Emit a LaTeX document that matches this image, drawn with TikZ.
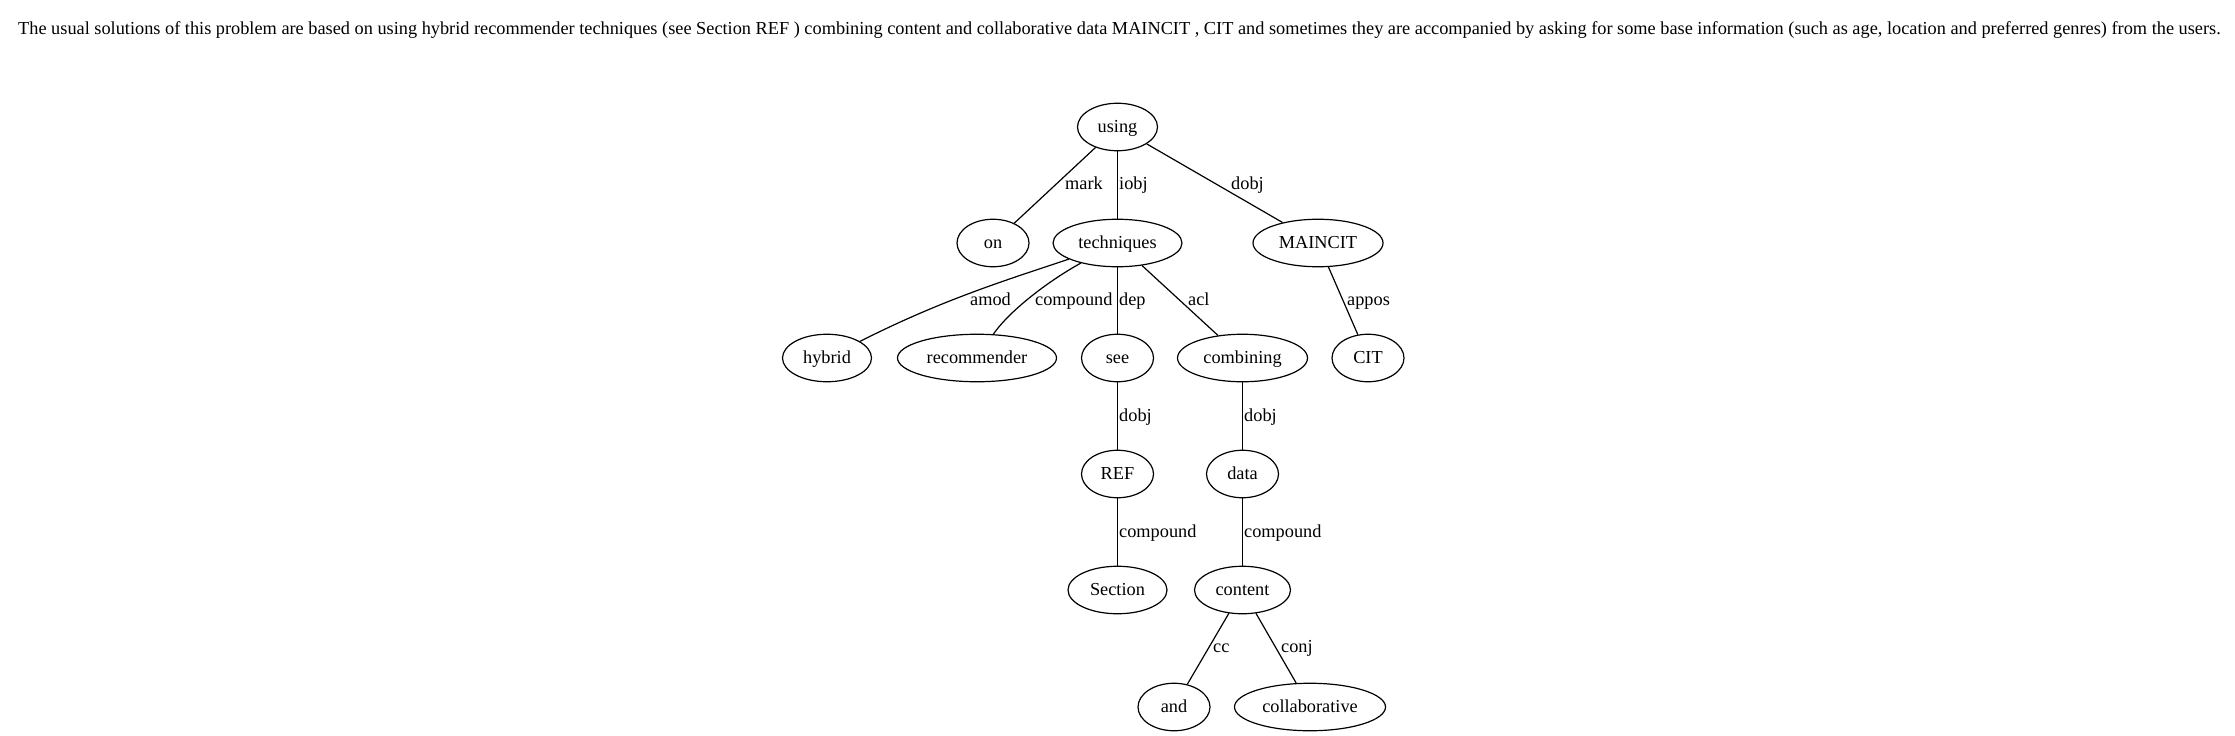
\documentclass[tikz,border=0pt]{standalone}
\usepackage{fontspec}
\setmainfont{Liberation Serif}
\usetikzlibrary{shapes.geometric}
\begin{document}
\begin{tikzpicture}[x=1pt,y=-1pt,
  every node/.style={font=\fontsize{18.3pt}{21pt}\selectfont},
  tok/.style={draw, ellipse, line width=1.2pt, inner sep=0pt, text height=11.8pt, text depth=0pt, minimum height=47.5pt},
  rel/.style={anchor=base west, inner sep=0pt},
  dep/.style={line width=1.2pt}]
\useasboundingbox[fill=white] (0,0) rectangle (2235,736);
\node[anchor=base west, inner sep=0pt] (title) at (18,34.3) {The usual solutions of this problem are based on using hybrid recommender techniques (see Section REF ) combining content and collaborative data MAINCIT , CIT and sometimes they are accompanied by asking for some base information (such as age, location and preferred genres) from the users.};
\node[tok, minimum width=80pt] (using) at (1117.5,127) {using};
\node[tok, minimum width=72pt] (on) at (993,243) {on};
\node[tok, minimum width=129pt] (techniques) at (1117.5,243) {techniques};
\node[tok, minimum width=130pt] (maincit) at (1318,243) {MAINCIT};
\node[tok, minimum width=89pt] (hybrid) at (827,358) {hybrid};
\node[tok, minimum width=159pt] (recommender) at (977,358) {recommender};
\node[tok, minimum width=72pt] (see) at (1117.5,358) {see};
\node[tok, minimum width=130pt] (combining) at (1242.5,358) {combining};
\node[tok, minimum width=72pt] (cit) at (1368,358) {CIT};
\node[tok, minimum width=72pt] (ref) at (1117.5,474) {REF};
\node[tok, minimum width=72pt] (data) at (1242.5,474) {data};
\node[tok, minimum width=99pt] (section) at (1117.5,590) {Section};
\node[tok, minimum width=96pt] (content) at (1242.5,590) {content};
\node[tok, minimum width=72pt] (and) at (1174,707) {and};
\node[tok, minimum width=151pt] (collaborative) at (1310,707) {collaborative};
% edges
\draw[dep] (using) -- (on);
\draw[dep] (using) -- (techniques);
\draw[dep] (using) -- (maincit);
\draw[dep] (techniques) .. controls (1000,282) and (940,301) .. (hybrid);
\draw[dep] (techniques) .. controls (1050,280) and (1010,310) .. (recommender);
\draw[dep] (techniques) -- (see);
\draw[dep] (techniques) -- (combining);
\draw[dep] (maincit) -- (cit);
\draw[dep] (see) -- (ref);
\draw[dep] (combining) -- (data);
\draw[dep] (ref) -- (section);
\draw[dep] (data) -- (content);
\draw[dep] (content) -- (and);
\draw[dep] (content) -- (collaborative);
% labels
\node[rel] (l1) at (1065,189) {mark};
\node[rel] (l2) at (1119,189) {iobj};
\node[rel] (l3) at (1231,189) {dobj};
\node[rel] (l4) at (970,305) {amod};
\node[rel] (l5) at (1035,305) {compound};
\node[rel] (l6) at (1119,305) {dep};
\node[rel] (l7) at (1188,305) {acl};
\node[rel] (l8) at (1347,305) {appos};
\node[rel] (l9) at (1119,421) {dobj};
\node[rel] (l10) at (1244,421) {dobj};
\node[rel] (l11) at (1119,537) {compound};
\node[rel] (l12) at (1244,537) {compound};
\node[rel] (l13) at (1213,652) {cc};
\node[rel] (l14) at (1281,652) {conj};
\end{tikzpicture}
\end{document}
